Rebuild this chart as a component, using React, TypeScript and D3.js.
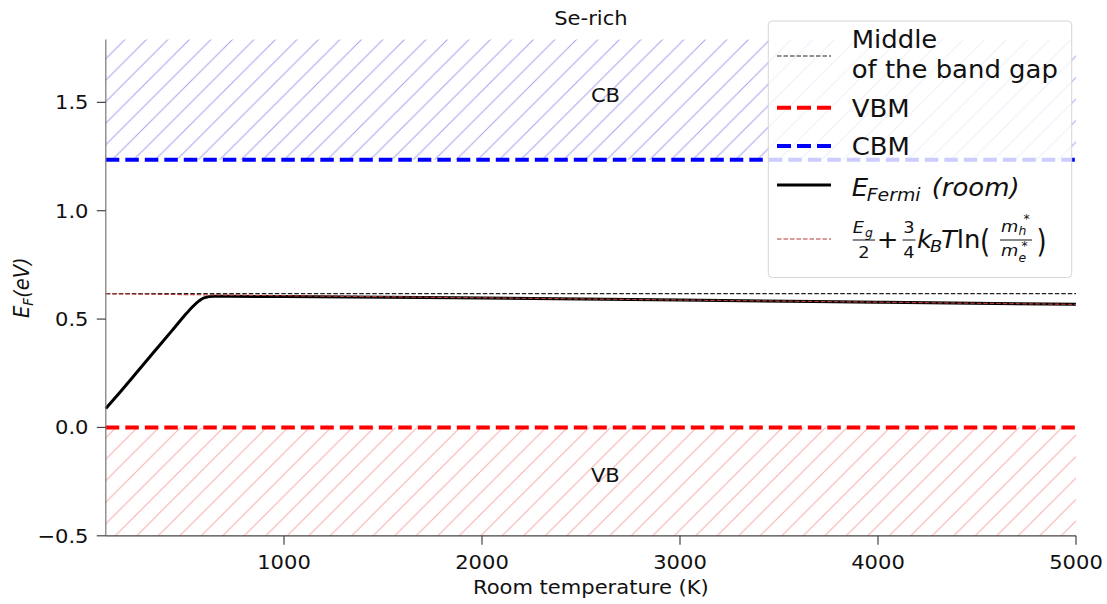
import React from 'react';
import * as d3 from 'd3';

// Fermi level vs. temperature, Se-rich conditions
const tempFermi = [100, 175, 260, 345, 430, 495, 537, 571, 596, 646, 720, 1000, 2000, 3000, 4000, 5000];
const eFermi = [0.087, 0.166, 0.258, 0.350, 0.442, 0.513, 0.556, 0.584, 0.598, 0.605, 0.605, 0.604, 0.597, 0.588, 0.578, 0.568];

// Intrinsic-limit estimate Eg/2 + 3/4 kT ln(mh*/me*) (straight line in T)
const tempFormula = [100, 5000];
const eFormula = [0.617, 0.568];

const vbmEnergy = 0.0;
const cbmEnergy = 1.235;

const xDomain = [100, 5000];
const yDomain = [-0.5, 1.79];
const xTicks = [1000, 2000, 3000, 4000, 5000];
const yTicks = [-0.5, 0.0, 0.5, 1.0, 1.5];

const W = 1107;
const H = 604;
const FONT = 'DejaVu Sans';
const plot = { left: 105.8, right: 1076, top: 39.5, bottom: 535.8 };

const SX = 1.08; // horizontal text stretch
const TICK_FS = 19.5;
const LABEL_FS = 19.5;
const LEG_FS = 24;
const LEG_SUB_FS = 17.5;
const SUB_FS = 16.5;
const SUBSUB_FS = 11.5;

type TxtProps = {
  x: number;
  y: number;
  size?: number;
  italic?: boolean;
  anchor?: 'start' | 'middle' | 'end';
  sy?: number;
  children: React.ReactNode;
};

function Txt({ x, y, size, italic, anchor, sy = 1, children }: TxtProps) {
  return (
    <text
      transform={`translate(${x},${y}) scale(${SX},${sy})`}
      fontSize={size}
      fontStyle={italic ? 'italic' : undefined}
      textAnchor={anchor}
      fill="#111"
    >
      {children}
    </text>
  );
}

export default function App() {
  const x = d3.scaleLinear().domain(xDomain).range([plot.left, plot.right]);
  const y = d3.scaleLinear().domain(yDomain).range([plot.bottom, plot.top]);

  const fermiLine = d3
    .line<number>()
    .x((_, i) => x(tempFermi[i]))
    .y((d) => y(d))
    .curve(d3.curveMonotoneX)(eFermi) as string;

  const formulaLine = d3
    .line<number>()
    .x((_, i) => x(tempFormula[i]))
    .y((d) => y(d))(eFormula) as string;

  const x0 = x(xDomain[0]);
  const x1 = x(xDomain[1]);
  const midGap = (vbmEnergy + cbmEnergy) / 2;
  const xMid = x((xDomain[0] + xDomain[1]) / 2);

  const fmtY = (v: number) => (v < 0 ? '\u2212' + Math.abs(v).toFixed(1) : v.toFixed(1));

  // legend geometry
  const lg = { x: 768.3, y: 21, w: 303.4, h: 256.5 };
  const hx0 = 777;
  const hx1 = 831;
  const tx = 851.7;
  const mb = 247.7; // formula main baseline

  return (
    <svg
      width={W}
      height={H}
      style={{ position: 'absolute', left: 0, top: 0, background: '#fff' }}
      fontFamily={FONT}
    >
      <defs>
        <pattern id="hatchCB" patternUnits="userSpaceOnUse" width={21.5} height={21.5} patternTransform="translate(14,0)">
          <path d="M-2,2 L2,-2 M0,21.5 L21.5,0 M19.5,23.5 L23.5,19.5" stroke="#a4a4ee" strokeWidth={1} />
        </pattern>
        <pattern id="hatchVB" patternUnits="userSpaceOnUse" width={21.5} height={21.5} patternTransform="translate(6,0)">
          <path d="M-2,2 L2,-2 M0,21.5 L21.5,0 M19.5,23.5 L23.5,19.5" stroke="#f6acac" strokeWidth={1} />
        </pattern>
      </defs>

      {/* band regions */}
      <rect x={x0} y={y(yDomain[1])} width={x1 - x0} height={y(cbmEnergy) - y(yDomain[1])} fill="url(#hatchCB)" />
      <rect x={x0} y={y(vbmEnergy)} width={x1 - x0} height={y(yDomain[0]) - y(vbmEnergy)} fill="url(#hatchVB)" />

      <Txt x={xMid} y={y(1.5)} size={TICK_FS}>CB</Txt>
      <Txt x={xMid} y={y(-0.25)} size={TICK_FS}>VB</Txt>

      {/* reference levels */}
      <line x1={x0} x2={x1} y1={y(midGap)} y2={y(midGap)} stroke="#222" strokeWidth={1.2} strokeDasharray="4.5 2" />
      <line x1={x0} x2={x1} y1={y(vbmEnergy)} y2={y(vbmEnergy)} stroke="#ff0000" strokeWidth={4} strokeDasharray="13.5 6" />
      <line x1={x0} x2={x1} y1={y(cbmEnergy)} y2={y(cbmEnergy)} stroke="#0000ff" strokeWidth={4} strokeDasharray="13.5 6" />

      {/* Fermi level */}
      <path d={fermiLine} fill="none" stroke="#000" strokeWidth={3} strokeLinejoin="round" />
      <path d={formulaLine} fill="none" stroke="#b23a3a" strokeWidth={1.2} strokeDasharray="4.5 2" />

      {/* axes */}
      <line x1={plot.left} x2={plot.left} y1={plot.top} y2={plot.bottom} stroke="#777" strokeWidth={1.2} />
      <line x1={plot.left} x2={plot.right} y1={plot.bottom} y2={plot.bottom} stroke="#444" strokeWidth={1.2} />
      {yTicks.map((t) => (
        <g key={'y' + t}>
          <line x1={plot.left - 9} x2={plot.left} y1={y(t)} y2={y(t)} stroke="#444" strokeWidth={1.2} />
          <Txt x={88.5} y={y(t) + 7} anchor="end" size={TICK_FS}>
            {fmtY(t)}
          </Txt>
        </g>
      ))}
      {xTicks.map((t) => (
        <g key={'x' + t}>
          <line x1={x(t)} x2={x(t)} y1={plot.bottom} y2={plot.bottom + 9} stroke="#444" strokeWidth={1.2} />
          <Txt x={x(t)} y={569.3} anchor="middle" size={TICK_FS}>
            {t}
          </Txt>
        </g>
      ))}

      <Txt x={(plot.left + plot.right) / 2} y={594} anchor="middle" size={LABEL_FS}>
        Room temperature (K)
      </Txt>
      <text
        transform={`translate(29,${(plot.top + plot.bottom) / 2}) rotate(-90) scale(1,${SX})`}
        textAnchor="middle"
        fontSize={LABEL_FS}
        fontStyle="italic"
        fill="#111"
      >
        E<tspan fontSize={13.5} dy={4}>F</tspan>
        <tspan dy={-4}>(eV)</tspan>
      </text>
      <Txt x={(plot.left + plot.right) / 2} y={25} anchor="middle" size={LABEL_FS}>
        Se-rich
      </Txt>

      {/* legend */}
      <rect x={lg.x} y={lg.y} width={lg.w} height={lg.h} rx={4} fill="#fff" fillOpacity={0.8} stroke="#d6d6d6" strokeWidth={1} />
      <line x1={hx0} x2={hx1} y1={56} y2={56} stroke="#222" strokeWidth={1.2} strokeDasharray="4.5 2" />
      <line x1={hx0} x2={hx1} y1={107.7} y2={107.7} stroke="#ff0000" strokeWidth={4} strokeDasharray="14 6" />
      <line x1={hx0} x2={hx1} y1={146} y2={146} stroke="#0000ff" strokeWidth={4} strokeDasharray="14 6" />
      <line x1={hx0} x2={hx1} y1={185} y2={185} stroke="#000" strokeWidth={3} />
      <line x1={hx0} x2={hx1} y1={239} y2={239} stroke="#b23a3a" strokeWidth={1.2} strokeDasharray="4.5 2" />

      <g fontSize={LEG_FS}>
        <Txt x={tx} y={48.3}>Middle</Txt>
        <Txt x={tx} y={78.3}>of the band gap</Txt>
        <Txt x={tx} y={117.3}>VBM</Txt>
        <Txt x={tx} y={155.3}>CBM</Txt>
        <Txt x={tx} y={195.5} italic>E</Txt>
        <Txt x={tx + 15} y={200.5} italic size={LEG_SUB_FS}>Fermi</Txt>
        <Txt x={931.7} y={195.5} italic>(room)</Txt>

        {/* Eg over 2 */}
        <Txt x={852.7} y={233.3} italic size={SUB_FS}>E</Txt>
        <Txt x={865} y={236.5} italic size={SUBSUB_FS}>g</Txt>
        <line x1={852.7} x2={875} y1={240} y2={240} stroke="#111" strokeWidth={1} />
        <Txt x={863.8} y={257.5} anchor="middle" size={SUB_FS}>2</Txt>
        <Txt x={887.5} y={mb} anchor="middle">+</Txt>
        {/* 3 over 4 */}
        <Txt x={908.8} y={233.3} anchor="middle" size={SUB_FS}>3</Txt>
        <line x1={902.5} x2={915.5} y1={240} y2={240} stroke="#111" strokeWidth={1} />
        <Txt x={908.8} y={257.5} anchor="middle" size={SUB_FS}>4</Txt>
        {/* kB T ln */}
        <Txt x={917} y={mb} italic>k</Txt>
        <Txt x={930} y={252} italic size={SUB_FS}>B</Txt>
        <Txt x={941} y={mb} italic>
          T<tspan fontStyle="normal">ln</tspan>
        </Txt>
        <Txt x={980} y={mb + 4} sy={1.35}>(</Txt>
        {/* effective-mass ratio */}
        <Txt x={1001} y={231.7} italic size={SUB_FS}>m</Txt>
        <Txt x={1018.5} y={235} italic size={SUBSUB_FS}>h</Txt>
        <Txt x={1023.5} y={222.5} size={SUBSUB_FS}>*</Txt>
        <line x1={1000} x2={1032} y1={240} y2={240} stroke="#111" strokeWidth={1} />
        <Txt x={1001} y={255.5} italic size={SUB_FS}>m</Txt>
        <Txt x={1018.5} y={262} italic size={SUBSUB_FS}>e</Txt>
        <Txt x={1021.5} y={249.5} size={SUBSUB_FS}>*</Txt>
        <Txt x={1036.5} y={mb + 4} sy={1.35}>)</Txt>
      </g>
    </svg>
  );
}
